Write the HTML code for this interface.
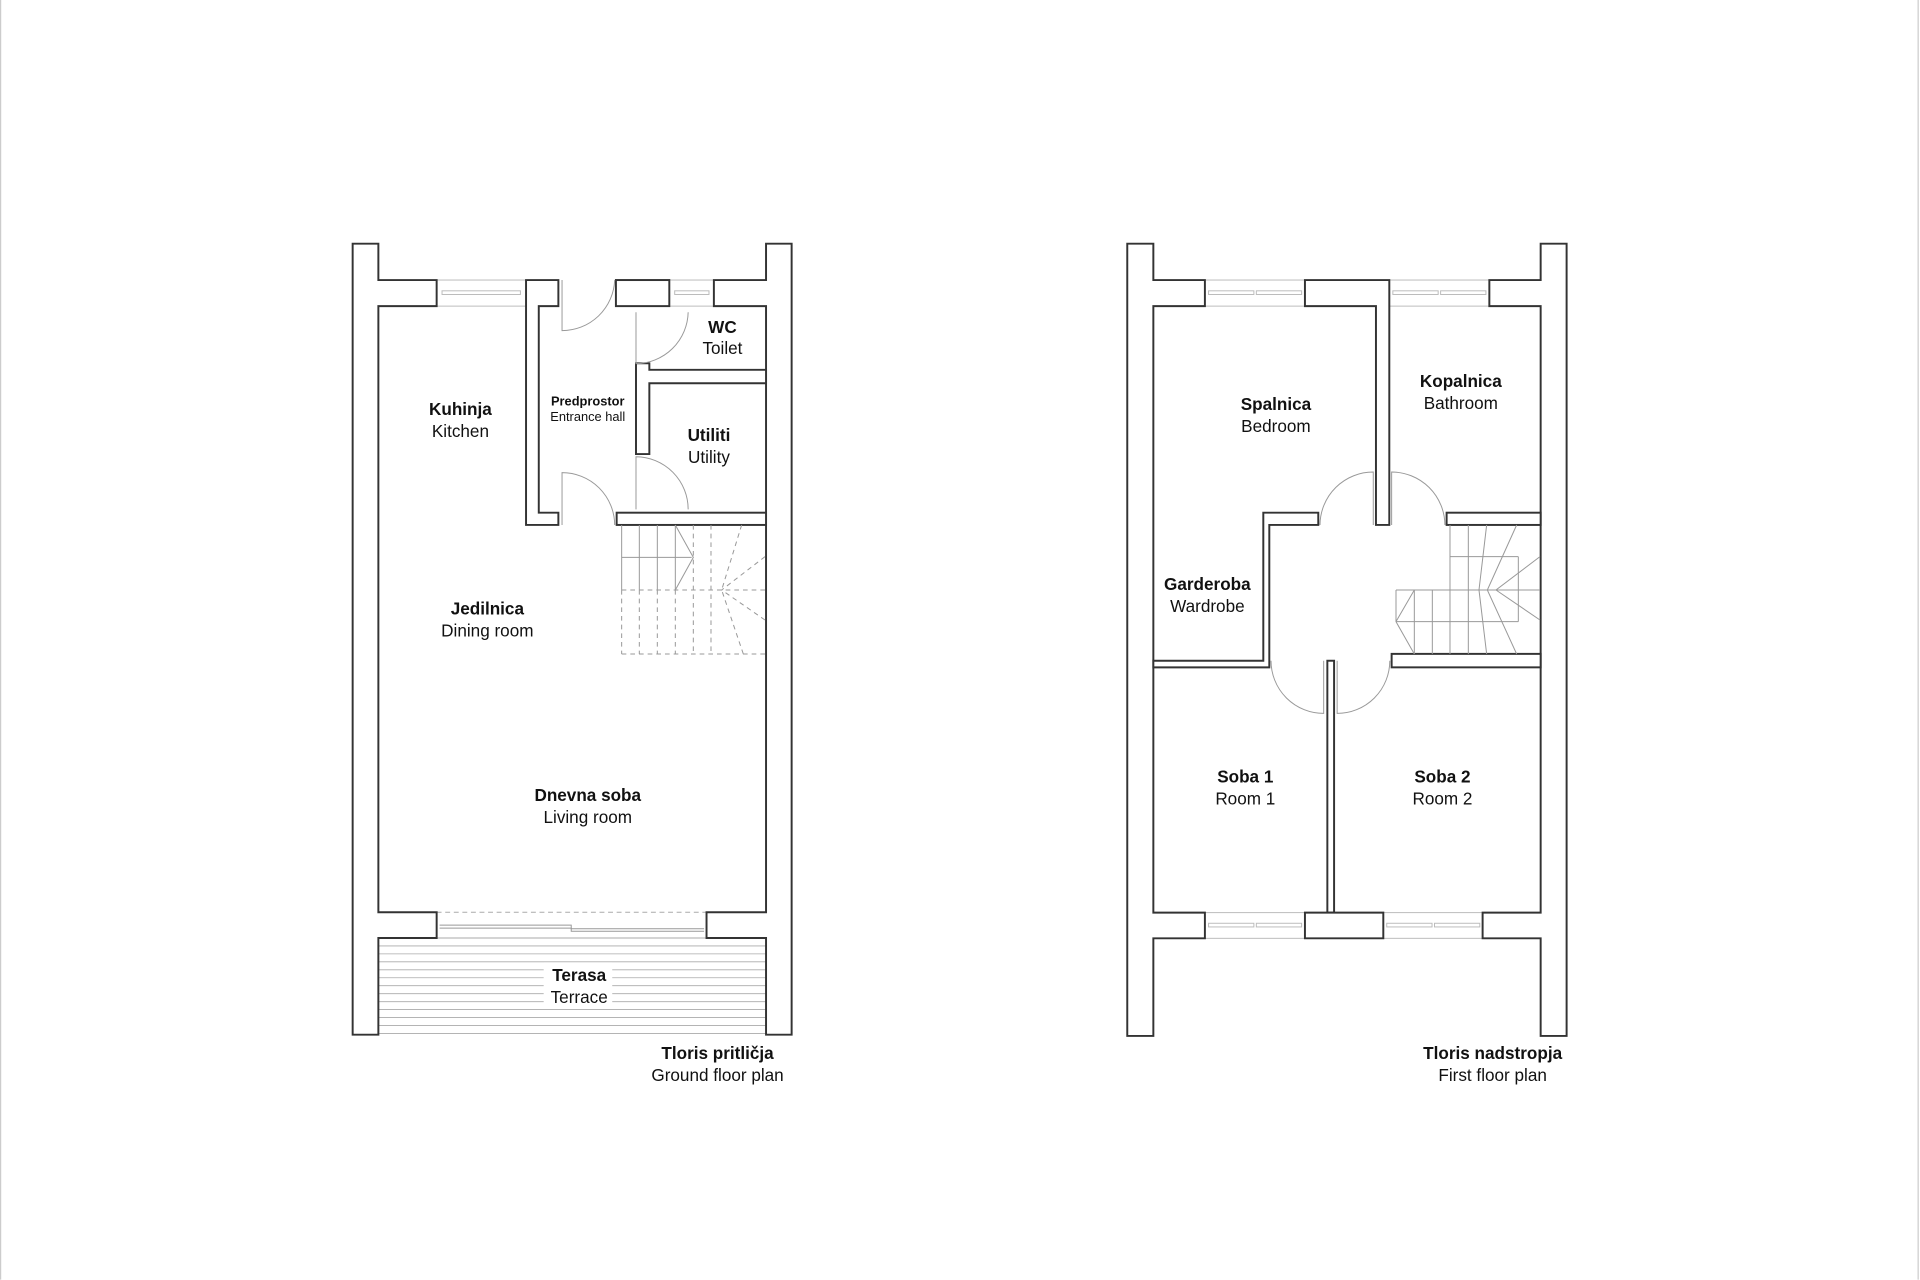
<!DOCTYPE html>
<html><head><meta charset="utf-8"><style>
html,body{margin:0;padding:0;background:#fff;}
svg{display:block;}
text{font-family:"Liberation Sans",Arial,sans-serif;fill:#111;text-anchor:middle;}
.b{font-weight:bold;font-size:14px;}
.r{font-size:14px;}
.w{fill:#fff;stroke:#333;stroke-width:1.6;stroke-linejoin:miter;}
.win{fill:#fff;stroke:#bbb;stroke-width:0.8;}
.thin{fill:none;stroke:#999;stroke-width:0.8;}
</style></head><body>
<svg width="1920" height="1280" viewBox="0 0 1568 1045.33" xmlns="http://www.w3.org/2000/svg">
<rect x="0" y="0" width="1568" height="1045.33" fill="#fff"/>
<line x1="0.5" y1="0" x2="0.5" y2="1045" stroke="#ccc" stroke-width="1"/>
<line x1="1566.5" y1="0" x2="1566.5" y2="1045" stroke="#ccc" stroke-width="1"/>

<!-- ===== GROUND FLOOR ===== -->
<!-- windows -->
<rect class="win" x="356.6" y="228.7" width="73" height="21.3"/>
<rect class="win" x="361" y="237.5" width="64" height="3"/>
<rect class="win" x="546.6" y="228.7" width="36.4" height="21.3"/>
<rect class="win" x="551" y="237.5" width="28" height="3"/>
<!-- sliding door -->
<line x1="356.6" y1="745" x2="577" y2="745" stroke="#aaa" stroke-width="0.8" stroke-dasharray="4,3"/>
<path d="M359 755.5 H466.5 V758.5 H575" class="thin"/>
<path d="M359 758 H466.5 V760.5 H575" class="thin"/>
<line x1="356.6" y1="766" x2="577" y2="766" stroke="#aaa" stroke-width="0.8"/>
<!-- terrace boards -->
<g stroke="#aaa" stroke-width="0.7">
<line x1="309" y1="772.5" x2="626" y2="772.5"/>
<line x1="309" y1="779" x2="626" y2="779"/>
<line x1="309" y1="785.5" x2="626" y2="785.5"/>
<line x1="309" y1="792" x2="626" y2="792"/>
<line x1="309" y1="798.5" x2="626" y2="798.5"/>
<line x1="309" y1="805" x2="626" y2="805"/>
<line x1="309" y1="811.5" x2="626" y2="811.5"/>
<line x1="309" y1="818" x2="626" y2="818"/>
<line x1="309" y1="824.5" x2="626" y2="824.5"/>
<line x1="309" y1="831" x2="626" y2="831"/>
<line x1="309" y1="837.5" x2="626" y2="837.5"/>
<line x1="309" y1="844" x2="626" y2="844"/>
</g>
<rect x="444" y="786" width="56" height="36" fill="#fff"/>
<!-- walls -->
<polygon class="w" points="288,199 309,199 309,228.7 356.6,228.7 356.6,250 309,250 309,745 356.6,745 356.6,766 309,766 309,845 288,845"/>
<polygon class="w" points="646.5,199 625.6,199 625.6,228.7 583,228.7 583,250 625.6,250 625.6,745 577,745 577,766 625.6,766 625.6,845 646.5,845"/>
<polygon class="w" points="429.6,228.7 456,228.7 456,250 440,250 440,418.7 456,418.7 456,428.7 429.6,428.7"/>
<rect class="w" x="503" y="228.7" width="43.6" height="21.3"/>
<polygon class="w" points="519.4,296.7 530.3,296.7 530.3,302 625.6,302 625.6,313 530.3,313 530.3,370.8 519.4,370.8"/>
<rect class="w" x="503.6" y="418.7" width="122" height="10"/>
<!-- doors ground -->
<g class="thin">
<path d="M459 228.7 V270 A43 43 0 0 0 502 228.7"/>
<path d="M519.4 255 V297 A43 43 0 0 0 562 255"/>
<path d="M519.4 416 V373 A43 43 0 0 1 562 416"/>
<path d="M459 428.7 V386 A43 43 0 0 1 502 428.7"/>
</g>
<!-- ground stairs -->
<g transform="translate(277.66,187.83) scale(0.27222)" fill="none" stroke="#999" stroke-width="3">
<line x1="845" y1="885" x2="845" y2="1080"/>
<line x1="898" y1="885" x2="898" y2="1080"/>
<line x1="952" y1="885" x2="952" y2="1080"/>
<line x1="1006" y1="885" x2="1006" y2="1080"/>
<line x1="845" y1="982" x2="1055" y2="982"/>
<polyline points="1006,885 1060,982 1006,1080"/>
<g stroke-dasharray="14,12">
<line x1="1060" y1="885" x2="1060" y2="1272"/>
<line x1="1113" y1="885" x2="1113" y2="1272"/>
<line x1="845" y1="1080" x2="1275" y2="1080"/>
<line x1="845" y1="1272" x2="1275" y2="1272"/>
<line x1="845" y1="1080" x2="845" y2="1272"/>
<line x1="898" y1="1080" x2="898" y2="1272"/>
<line x1="952" y1="1080" x2="952" y2="1272"/>
<line x1="1006" y1="1080" x2="1006" y2="1272"/>
<line x1="1205" y1="885" x2="1145" y2="1080"/>
<line x1="1275" y1="980" x2="1145" y2="1080"/>
<line x1="1275" y1="1170" x2="1145" y2="1080"/>
<line x1="1210" y1="1272" x2="1145" y2="1080"/>
</g>
</g>

<!-- ===== FIRST FLOOR ===== -->
<rect class="win" x="984" y="228.7" width="81.7" height="21.3"/>
<rect class="win" x="987" y="237.5" width="37" height="3"/>
<rect class="win" x="1026" y="237.5" width="37" height="3"/>
<rect class="win" x="1134.6" y="228.7" width="81.7" height="21.3"/>
<rect class="win" x="1137.5" y="237.5" width="37" height="3"/>
<rect class="win" x="1176.5" y="237.5" width="37" height="3"/>
<rect class="win" x="984" y="745.3" width="81.7" height="21"/>
<rect class="win" x="987" y="754" width="37" height="3"/>
<rect class="win" x="1026" y="754" width="37" height="3"/>
<rect class="win" x="1129.7" y="745.3" width="81.1" height="21"/>
<rect class="win" x="1132.5" y="754" width="37" height="3"/>
<rect class="win" x="1171.5" y="754" width="37" height="3"/>
<polygon class="w" points="920.6,199 941.9,199 941.9,228.7 984,228.7 984,250 941.9,250 941.9,745.3 984,745.3 984,766.3 941.9,766.3 941.9,846 920.6,846"/>
<polygon class="w" points="1279.4,199 1258.2,199 1258.2,228.7 1216.3,228.7 1216.3,250 1258.2,250 1258.2,745.3 1210.8,745.3 1210.8,766.3 1258.2,766.3 1258.2,846 1279.4,846"/>
<polygon class="w" points="1065.7,228.7 1134.6,228.7 1134.6,428.7 1123.7,428.7 1123.7,250 1065.7,250"/>
<polygon class="w" points="1031.7,418.7 1076.6,418.7 1076.6,428.7 1036.6,428.7 1036.6,545 941.9,545 941.9,539.6 1031.7,539.6"/>
<rect class="w" x="1181.4" y="418.7" width="76.8" height="10"/>
<rect class="w" x="1136.5" y="534" width="121.7" height="11"/>
<rect class="w" x="1084" y="539.6" width="5.5" height="205.7"/>
<polygon class="w" points="1065.7,745.3 1084,745.3 1084,745.3 1089.5,745.3 1129.7,745.3 1129.7,766.3 1065.7,766.3"/>
<!-- doors first -->
<g class="thin">
<path d="M1121.5 428.7 V385.5 A43.5 43.5 0 0 0 1078 428.7"/>
<path d="M1136.5 428.7 V385.5 A43.5 43.5 0 0 1 1180 428.7"/>
<path d="M1081 539.6 V582.6 A43 43 0 0 1 1038 539.6"/>
<path d="M1092 539.6 V582.6 A43 43 0 0 0 1135 539.6"/>
</g>
<!-- first stairs -->
<g transform="translate(914.66,187.83) scale(0.27222)" fill="none" stroke="#999" stroke-width="3">
<line x1="990" y1="885" x2="990" y2="1272"/>
<line x1="1045" y1="885" x2="1045" y2="1272"/>
<polyline points="1100,885 1077,1080 1100,1272"/>
<polyline points="1190,885 1102,1080 1190,1272"/>
<polyline points="1260,980 1128,1080 1260,1170"/>
<line x1="828" y1="1080" x2="1260" y2="1080"/>
<line x1="828" y1="1175" x2="1195" y2="1175"/>
<line x1="990" y1="980" x2="1195" y2="980"/>
<line x1="1195" y1="980" x2="1195" y2="1175"/>
<line x1="828" y1="1080" x2="828" y2="1175"/>
<line x1="883" y1="1080" x2="883" y2="1272"/>
<line x1="937" y1="1080" x2="937" y2="1272"/>
<polyline points="883,1080 828,1175 883,1272"/>
</g>

<!-- ===== LABELS ===== -->
<text class="b" x="376" y="339">Kuhinja</text>
<text class="r" x="376" y="357">Kitchen</text>
<text x="480" y="331" style="font-weight:bold;font-size:10.5px">Predprostor</text>
<text x="480" y="344" style="font-size:10.5px">Entrance hall</text>
<text class="b" x="590" y="272">WC</text>
<text class="r" x="590" y="289">Toilet</text>
<text class="b" x="579" y="360">Utiliti</text>
<text class="r" x="579" y="378">Utility</text>
<text class="b" x="398" y="502">Jedilnica</text>
<text class="r" x="398" y="520">Dining room</text>
<text class="b" x="480" y="654">Dnevna soba</text>
<text class="r" x="480" y="672">Living room</text>
<text class="b" x="473" y="801">Terasa</text>
<text class="r" x="473" y="819">Terrace</text>
<text class="b" x="586" y="865">Tloris pritličja</text>
<text class="r" x="586" y="883">Ground floor plan</text>

<text class="b" x="1042" y="335">Spalnica</text>
<text class="r" x="1042" y="353">Bedroom</text>
<text class="b" x="1193" y="316">Kopalnica</text>
<text class="r" x="1193" y="334">Bathroom</text>
<text class="b" x="986" y="482">Garderoba</text>
<text class="r" x="986" y="500">Wardrobe</text>
<text class="b" x="1017" y="639">Soba 1</text>
<text class="r" x="1017" y="657">Room 1</text>
<text class="b" x="1178" y="639">Soba 2</text>
<text class="r" x="1178" y="657">Room 2</text>
<text class="b" x="1219" y="865">Tloris nadstropja</text>
<text class="r" x="1219" y="883">First floor plan</text>
</svg>
</body></html>
